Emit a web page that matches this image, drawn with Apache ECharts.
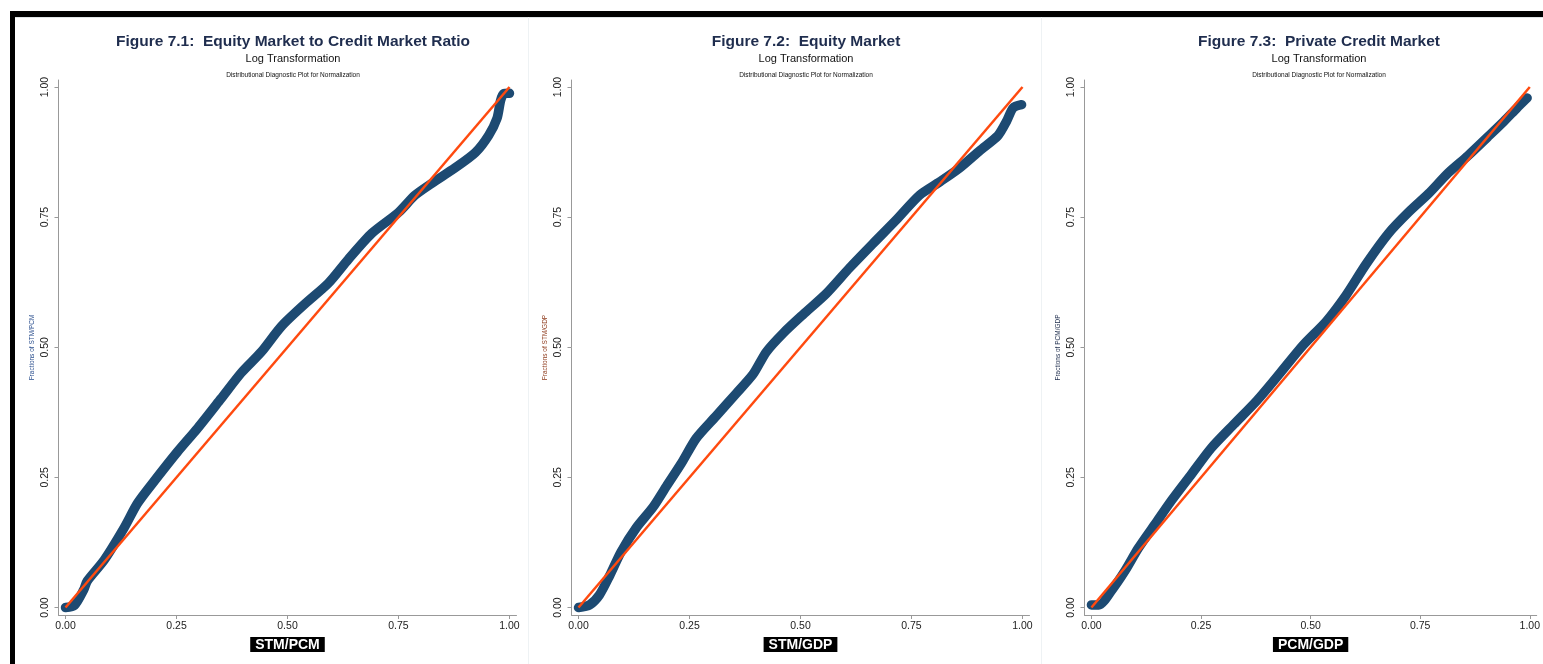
<!DOCTYPE html>
<html>
<head>
<meta charset="utf-8">
<script src="https://cdn.jsdelivr.net/npm/echarts@6/dist/echarts.min.js"></script>
<style>
  html, body { margin: 0; padding: 0; background: #fff; }
  #chart { width: 1543px; height: 664px; }
</style>
</head>
<body>
<div id="chart"></div>
<script>
// panel texts
const figNums = ['Figure 7.1:  ', 'Figure 7.2:  ', 'Figure 7.3:  '];
const figTitles = ['Equity Market to Credit Market Ratio', 'Equity Market', 'Private Credit Market'];
const varNames = ['STM/PCM', 'STM/GDP', 'PCM/GDP'];
const yNameColors = ['#2b4f8e', '#8e3b1c', '#1d2c4c'];
const tickValues = [0, 0.25, 0.5, 0.75, 1];

const stmPcmX = [0, 0.02, 0.041, 0.049, 0.087, 0.132, 0.162, 0.2, 0.252, 0.298, 0.35, 0.396, 0.441, 0.486, 0.539, 0.592, 0.637, 0.69, 0.75, 0.787, 0.825, 0.878, 0.923, 0.953, 0.972, 0.98, 0.987, 1.0];
const stmPcmY = [0, 0.004, 0.034, 0.051, 0.091, 0.153, 0.2, 0.243, 0.299, 0.345, 0.401, 0.451, 0.491, 0.54, 0.583, 0.623, 0.669, 0.719, 0.759, 0.792, 0.815, 0.845, 0.874, 0.907, 0.94, 0.974, 0.987, 0.988];

const stmGdpX = [0, 0.025, 0.047, 0.07, 0.096, 0.13, 0.168, 0.198, 0.231, 0.265, 0.31, 0.355, 0.393, 0.423, 0.461, 0.506, 0.558, 0.611, 0.663, 0.716, 0.768, 0.814, 0.859, 0.904, 0.945, 0.964, 0.979, 0.998];
const stmGdpY = [0, 0.005, 0.024, 0.061, 0.107, 0.153, 0.193, 0.233, 0.276, 0.325, 0.368, 0.411, 0.448, 0.491, 0.527, 0.563, 0.603, 0.653, 0.699, 0.745, 0.792, 0.818, 0.845, 0.878, 0.907, 0.934, 0.96, 0.966];

const pcmGdpX = [0, 0.017, 0.047, 0.077, 0.107, 0.145, 0.183, 0.228, 0.273, 0.325, 0.378, 0.431, 0.483, 0.536, 0.581, 0.626, 0.678, 0.723, 0.769, 0.814, 0.859, 0.904, 0.941, 0.971, 0.994];
const pcmGdpY = [0.005, 0.005, 0.034, 0.071, 0.114, 0.16, 0.206, 0.256, 0.306, 0.352, 0.398, 0.451, 0.504, 0.55, 0.6, 0.659, 0.719, 0.759, 0.795, 0.835, 0.868, 0.904, 0.934, 0.96, 0.979];

const refX = [0, 1];
const refY = [0, 1];

const panelX = [stmPcmX, stmGdpX, pcmGdpX];
const panelY = [stmPcmY, stmGdpY, pcmGdpY];

const zip = (xs, ys) => xs.map((x, i) => [x, ys[i]]);

const FONT = '"Liberation Sans", Arial, Helvetica, sans-serif';
const gridLeft = [58.5, 571.5, 1084.5];
const gridW = 458, gridTop = 80, gridH = 535;

const titles = [], grids = [], xAxes = [], yAxes = [], series = [];
for (let i = 0; i < 3; i++) {
  const cx = gridLeft[i] + 7.5 + 222;
  titles.push({
    text: '{a|' + figNums[i] + '}{b|' + figTitles[i] + '}',
    left: cx, top: 29, textAlign: 'center',
    textStyle: {
      rich: {
        a: { fontFamily: FONT, fontSize: 15.5, color: '#1f2d4e' },
        b: { fontFamily: FONT, fontSize: 15.5, fontWeight: 'bold', color: '#1f2d4e' }
      }
    }
  });
  titles.push({
    text: 'Log Transformation',
    left: cx, top: 48, textAlign: 'center',
    textStyle: { fontFamily: FONT, fontSize: 11, fontWeight: 'normal', color: '#111' }
  });
  titles.push({
    text: 'Distributional Diagnostic Plot for Normalization',
    left: cx, top: 67, textAlign: 'center',
    textStyle: { fontFamily: FONT, fontSize: 6.5, fontWeight: 'normal', color: '#111' }
  });

  grids.push({ left: gridLeft[i], top: gridTop, width: gridW, height: gridH });

  xAxes.push({
    type: 'value', gridIndex: i, min: -0.0158, max: 1.0158,
    name: varNames[i], nameLocation: 'middle', nameGap: 17,
    nameTextStyle: {
      fontFamily: FONT, fontSize: 14, fontWeight: 'bold', color: '#fff',
      backgroundColor: '#000', padding: [1, 5, 0, 5]
    },
    splitLine: { show: false },
    axisLine: { onZero: false, lineStyle: { color: '#999', width: 1 } },
    axisTick: { show: true, length: 4, customValues: tickValues, lineStyle: { color: '#999' } },
    axisLabel: {
      customValues: tickValues, margin: 6,
      fontFamily: FONT, fontSize: 10.5, color: '#222',
      formatter: v => v.toFixed(2)
    }
  });
  yAxes.push({
    type: 'value', gridIndex: i, min: -0.0144, max: 1.0135,
    name: 'Fractions of ' + varNames[i], nameLocation: 'middle', nameGap: 23,
    nameTextStyle: { fontFamily: FONT, fontSize: 6.5, color: yNameColors[i] },
    splitLine: { show: false },
    axisLine: { show: true, onZero: false, lineStyle: { color: '#999', width: 1 } },
    axisTick: { show: true, length: 4, customValues: tickValues, lineStyle: { color: '#999' } },
    axisLabel: {
      customValues: tickValues, margin: 8, rotate: 90,
      fontFamily: FONT, fontSize: 10.5, color: '#222',
      formatter: v => v.toFixed(2)
    }
  });

  series.push({
    type: 'line', xAxisIndex: i, yAxisIndex: i,
    data: zip(panelX[i], panelY[i]),
    showSymbol: false, clip: false, silent: true, smooth: 0.25,
    lineStyle: { color: '#1d4a72', width: 9.5, cap: 'round', join: 'round' },
    z: 2
  });
  series.push({
    type: 'line', xAxisIndex: i, yAxisIndex: i,
    data: zip(refX, refY),
    showSymbol: false, clip: false, silent: true,
    lineStyle: { color: '#ff4a0f', width: 2.5 },
    z: 3
  });
}

const chart = echarts.init(document.getElementById('chart'), null, { renderer: 'canvas' });
chart.setOption({
  backgroundColor: '#fff',
  animation: false,
  title: titles,
  grid: grids,
  xAxis: xAxes,
  yAxis: yAxes,
  series: series,
  graphic: [
    // frame of the screenshot
    { type: 'rect', shape: { x: 10, y: 11, width: 1533, height: 6 }, style: { fill: '#000' }, silent: true },
    { type: 'rect', shape: { x: 10, y: 11, width: 5, height: 653 }, style: { fill: '#000' }, silent: true },
    { type: 'rect', shape: { x: 15, y: 17, width: 1528, height: 1 }, style: { fill: '#dfe4e6' }, silent: true },
    { type: 'rect', shape: { x: 528, y: 17, width: 1, height: 647 }, style: { fill: '#eef2f4' }, silent: true },
    { type: 'rect', shape: { x: 1041, y: 17, width: 1, height: 647 }, style: { fill: '#eef2f4' }, silent: true }
  ]
});
</script>
</body>
</html>
